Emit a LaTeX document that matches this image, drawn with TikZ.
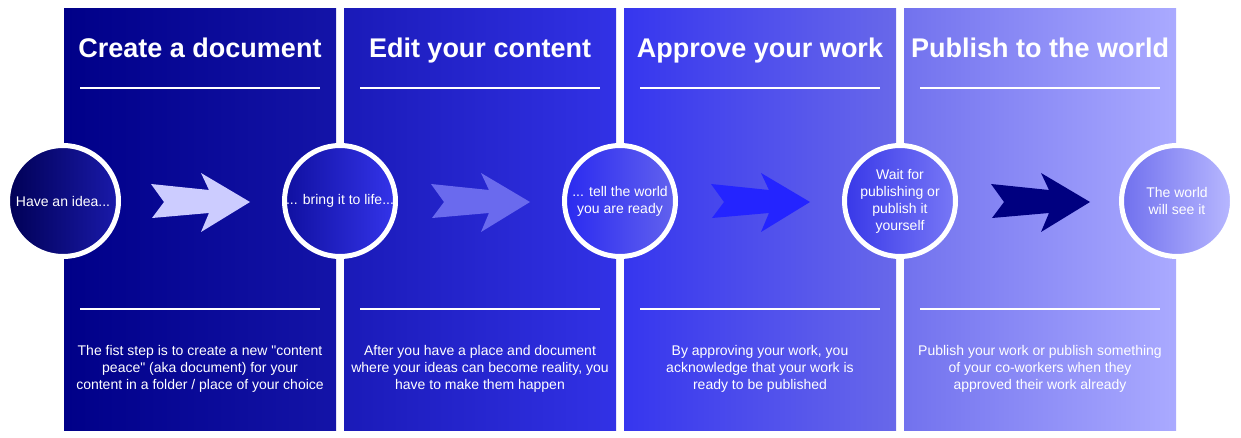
\documentclass[tikz,border=0pt]{standalone}
\usepackage{fontspec}
\setmainfont{Liberation Sans}
\definecolor{navy}{HTML}{000080}
\definecolor{lavender}{HTML}{CCCCFF}
\definecolor{midblue}{HTML}{6A6AEE}
\definecolor{brightblue}{HTML}{2424FF}
\tikzset{
  panel/.style={minimum width=272pt, minimum height=422pt, inner sep=0pt, anchor=north west},
  stepcircle/.style={circle, draw=white, line width=5pt, minimum size=111pt, inner sep=0pt,
    text=white, align=center, font=\fontsize{14}{17}\selectfont},
  title/.style={text=white, anchor=base, font=\bfseries\fontsize{27}{30}\selectfont},
  desc/.style={text=white, align=center, font=\fontsize{14}{17}\selectfont},
  rule/.style={draw=white, line width=2pt}
}
\begin{document}
\begin{tikzpicture}[x=1pt,y=-1pt]
\useasboundingbox[fill=white] (0,0) rectangle (1241,438);
% panels
\foreach \n/\x/\a/\b in {1/64/000088/1414A8, 2/344/1A1AB8/3232E6, 3/624/3636EE/6868EA, 4/904/7272EE/AAAAFF}{
  \definecolor{pl}{HTML}{\a}\definecolor{pr}{HTML}{\b}
  \node[panel, left color=pl, right color=pr] (p\n) at (\x,8) {};
  \draw[rule] (\x+16,88) -- (\x+256,88);
  \draw[rule] (\x+16,309) -- (\x+256,309);
}
% titles
\node[title] (t1) at (200,58) {Create a document};
\node[title] (t2) at (480,58) {Edit your content};
\node[title] (t3) at (760,58) {Approve your work};
\node[title] (t4) at (1040,58) {Publish to the world};
% descriptions
\node[desc] (d1) at (200,369) {The fist step is to create a new \textquotedbl content\\peace\textquotedbl{} (aka document) for your\\content in a folder / place of your choice};
\node[desc] (d2) at (480,369) {After you have a place and document\\where your ideas can become reality, you\\have to make them happen};
\node[desc] (d3) at (760,369) {By approving your work, you\\acknowledge that your work is\\ready to be published};
\node[desc] (d4) at (1040,369) {Publish your work or publish something\\of your co-workers when they\\approved their work already};
% arrows
\foreach \x/\c in {151/lavender, 431/midblue, 711/brightblue, 991/navy}{
  \fill[\c] (\x,184) -- (\x+58,190) -- (\x+50,173) -- (\x+99,202) -- (\x+50,232)
    -- (\x+58,213) -- (\x+1,218) -- (\x+13,202) -- cycle;
}
% circles
\definecolor{c1l}{HTML}{000055}\definecolor{c1r}{HTML}{1A1AAA}
\definecolor{c2l}{HTML}{1010A0}\definecolor{c2r}{HTML}{3434EA}
\definecolor{c3l}{HTML}{2A2AF0}\definecolor{c3r}{HTML}{6262EE}
\definecolor{c4l}{HTML}{3838E8}\definecolor{c4r}{HTML}{7878F6}
\definecolor{c5l}{HTML}{7070EE}\definecolor{c5r}{HTML}{B8B8FF}
\node[stepcircle, left color=c1l, right color=c1r] (s1) at (63,201) {Have an idea...};
\node[stepcircle, left color=c2l, right color=c2r] (s2) at (340,201) {... bring it to life...};
\node[stepcircle, left color=c3l, right color=c3r] (s3) at (620,201) {... tell the world\\you are ready};
\node[stepcircle, left color=c4l, right color=c4r] (s4) at (900,201) {Wait for\\publishing or\\publish it\\yourself};
\node[stepcircle, left color=c5l, right color=c5r] (s5) at (1177,201) {The world\\will see it};
\end{tikzpicture}
\end{document}
